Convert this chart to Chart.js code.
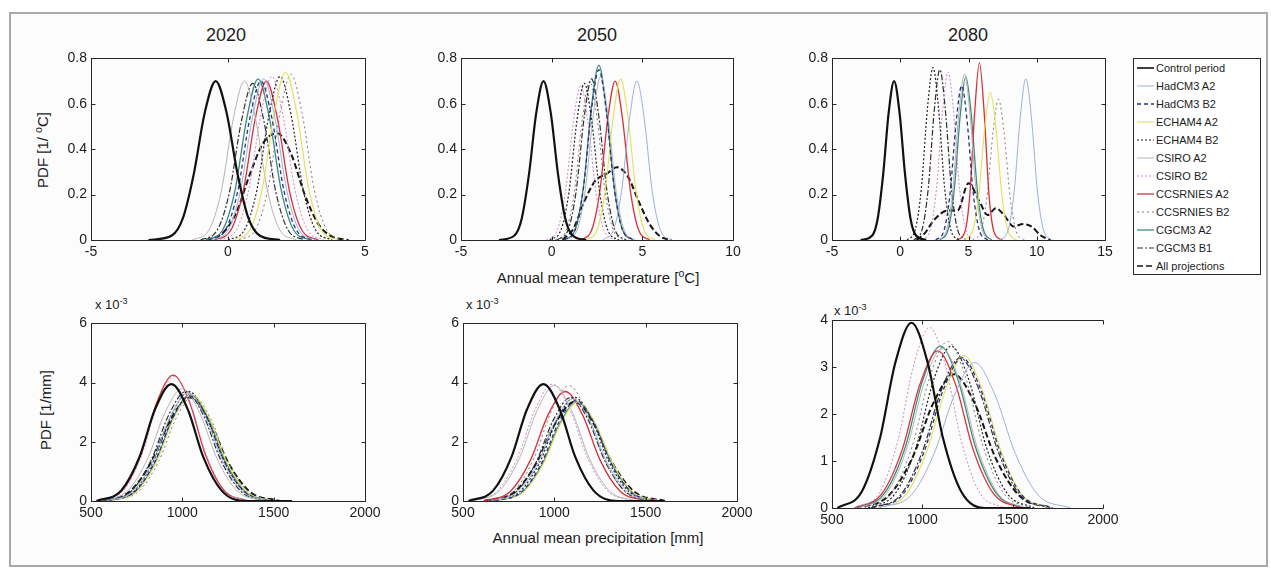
<!DOCTYPE html>
<html>
<head>
<meta charset="utf-8">
<script src="https://cdn.jsdelivr.net/npm/chart.js@4.4.1/dist/chart.umd.min.js"></script>
<style>
  html, body { margin: 0; padding: 0; background: #fff; }
  #figure { position: relative; width: 1271px; height: 574px; overflow: hidden;
            font-family: "Liberation Sans", Arial, sans-serif; color: #1c1c1c; }
  #frame { position: absolute; left: 9px; top: 12px; width: 1255px; height: 551px;
           border: 2px solid #a9a9a9; background: #fcfcfc; }
  canvas.panel { position: absolute; }
  .lbl { position: absolute; white-space: nowrap; transform: translate(-50%, -50%); }
  .title { font-size: 18px; }
  .axlabel { font-size: 15px; }
  .ylabel { font-size: 15px; transform: translate(-50%, -50%) rotate(-90deg); }
  .exp { position: absolute; font-size: 13px; white-space: nowrap; }
  sup { font-size: 70%; vertical-align: super; line-height: 0; }
  #legend { position: absolute; left: 1133px; top: 58px; width: 126px; height: 215px;
            border: 1px solid #2a2a2a; background: #fff; font-size: 11px; }
  #legend .row { height: 18px; display: flex; align-items: center; }
  #legend svg { margin: 0 2px 0 3px; flex: none; }
</style>
</head>
<body>
<div id="figure">
  <div id="frame"></div>

  <div class="lbl title" style="left:226px; top:35px;">2020</div>
  <div class="lbl title" style="left:597px; top:35px;">2050</div>
  <div class="lbl title" style="left:968px; top:35px;">2080</div>

  <div class="lbl ylabel" style="left:42px; top:150px;">PDF [1/ <sup>o</sup>C]</div>
  <div class="lbl ylabel" style="left:45px; top:410px;">PDF [1/mm]</div>

  <div class="lbl axlabel" style="left:598px; top:277px;">Annual mean temperature [<sup>o</sup>C]</div>
  <div class="lbl axlabel" style="left:598px; top:537px;">Annual mean precipitation [mm]</div>

  <div class="exp" style="left:95px; top:297px;">x 10<sup>-3</sup></div>
  <div class="exp" style="left:466px; top:297px;">x 10<sup>-3</sup></div>
  <div class="exp" style="left:834px; top:303px;">x 10<sup>-3</sup></div>

  <div id="legend"></div>
</div>

<script>
// series order used by every panel
const models = [
  'Control period', 'HadCM3 A2', 'HadCM3 B2', 'ECHAM4 A2', 'ECHAM4 B2',
  'CSIRO A2', 'CSIRO B2', 'CCSRNIES A2', 'CCSRNIES B2', 'CGCM3 A2',
  'CGCM3 B1', 'All projections'
];
const lineColors = ['#111111', '#9db1d8', '#26308a', '#e2e05a', '#222222', '#b4b4b4',
                    '#c98bcb', '#d6303a', '#7c7c7c', '#3b8b7a', '#303030', '#151515'];
const lineWidths = [2.2, 1, 1.3, 1.1, 1.2, 1, 1, 1.3, 1, 1.3, 1.2, 2];
const lineDashes = [[], [], [4, 3], [], [2, 2], [], [2, 2], [], [2, 3], [], [6, 2, 2, 2], [6, 3]];

// axis ticks
const tempTicks2020 = [-5, 0, 5];
const tempTicks2050 = [-5, 0, 5, 10];
const tempTicks2080 = [-5, 0, 5, 10, 15];
const precipTicks = [500, 1000, 1500, 2000];
const pdfTempTicks = [0, 0.2, 0.4, 0.6, 0.8];
const pdfPrecipTicks = [0, 2, 4, 6];
const pdfPrecipTicks2080 = [0, 1, 2, 3, 4];

// control period, [deg C, 1/deg C]
const controlTemp = [[-2.9,0],[-2.05,0.02],[-1.65,0.095],[-1.25,0.29],[-0.85,0.56],[-0.45,0.70],
                     [-0.05,0.56],[0.35,0.29],[0.75,0.095],[1.15,0.02],[1.9,0]];
// control period, [mm, 1e-3/mm]
const controlPrecip = [[530,0],[665,0.35],[765,1.48],[850,3.09],[940,3.95],[1030,3.09],
                       [1115,1.48],[1215,0.35],[1350,0],[1600,0]];

// projections, same order as models[1..]
const temp2020 = [
  [[-0.6,0],[0,0.043],[0.45,0.215],[0.9,0.545],[1.3,0.71],[1.7,0.545],[2.15,0.215],[2.6,0.043],[3.2,0]],
  [[-0.7,0],[-0.1,0.043],[0.35,0.212],[0.8,0.538],[1.2,0.70],[1.6,0.538],[2.05,0.212],[2.5,0.043],[3.1,0]],
  [[0.2,0],[0.8,0.045],[1.25,0.224],[1.7,0.568],[2.1,0.74],[2.5,0.568],[2.95,0.224],[3.4,0.045],[4.0,0]],
  [[0,0],[0.6,0.044],[1.05,0.218],[1.5,0.553],[1.9,0.72],[2.3,0.553],[2.75,0.218],[3.2,0.044],[3.8,0]],
  [[-1.3,0],[-0.7,0.043],[-0.25,0.212],[0.2,0.538],[0.6,0.70],[1.0,0.538],[1.45,0.212],[1.9,0.043],[2.5,0]],
  [[-0.3,0],[0.3,0.044],[0.75,0.218],[1.2,0.553],[1.6,0.72],[2.0,0.553],[2.45,0.218],[2.9,0.044],[3.5,0]],
  [[-0.5,0],[0.1,0.043],[0.55,0.212],[1.0,0.538],[1.4,0.70],[1.8,0.538],[2.25,0.212],[2.7,0.043],[3.3,0]],
  [[0.4,0],[1.0,0.045],[1.45,0.221],[1.9,0.561],[2.3,0.73],[2.7,0.561],[3.15,0.221],[3.6,0.045],[4.2,0]],
  [[-0.8,0],[-0.2,0.043],[0.25,0.215],[0.7,0.545],[1.1,0.71],[1.5,0.545],[1.95,0.215],[2.4,0.043],[3.0,0]],
  [[-1.0,0],[-0.4,0.042],[0.05,0.209],[0.5,0.530],[0.9,0.69],[1.3,0.530],[1.75,0.209],[2.2,0.042],[2.8,0]],
  [[-0.8,0],[-0.2,0.03],[0.3,0.12],[0.8,0.29],[1.3,0.43],[1.8,0.47],[2.3,0.38],[2.8,0.20],[3.3,0.07],[3.8,0.015],[4.4,0]]
];
const temp2050 = [
  [[2.8,0],[3.4,0.043],[3.85,0.212],[4.3,0.538],[4.7,0.70],[5.1,0.538],[5.55,0.212],[6.0,0.043],[6.6,0]],
  [[0.7,0],[1.3,0.046],[1.75,0.227],[2.2,0.576],[2.6,0.75],[3.0,0.576],[3.45,0.227],[3.9,0.046],[4.5,0]],
  [[1.9,0],[2.5,0.043],[2.95,0.215],[3.4,0.545],[3.8,0.71],[4.2,0.545],[4.65,0.215],[5.1,0.043],[5.7,0]],
  [[-0.1,0],[0.5,0.042],[0.95,0.209],[1.4,0.530],[1.8,0.69],[2.2,0.530],[2.65,0.209],[3.1,0.042],[3.7,0]],
  [[0.8,0],[1.4,0.044],[1.85,0.218],[2.3,0.553],[2.7,0.72],[3.1,0.553],[3.55,0.218],[4.0,0.044],[4.6,0]],
  [[-0.3,0],[0.3,0.041],[0.75,0.206],[1.2,0.522],[1.6,0.68],[2.0,0.522],[2.45,0.206],[2.9,0.041],[3.5,0]],
  [[1.6,0],[2.2,0.043],[2.65,0.212],[3.1,0.538],[3.5,0.70],[3.9,0.538],[4.35,0.212],[4.8,0.043],[5.4,0]],
  [[0.2,0],[0.8,0.043],[1.25,0.212],[1.7,0.538],[2.1,0.70],[2.5,0.538],[2.95,0.212],[3.4,0.043],[4.0,0]],
  [[0.7,0],[1.3,0.047],[1.75,0.233],[2.2,0.591],[2.6,0.77],[3.0,0.591],[3.45,0.233],[3.9,0.047],[4.5,0]],
  [[0.3,0],[0.9,0.043],[1.35,0.215],[1.8,0.545],[2.2,0.71],[2.6,0.545],[3.05,0.215],[3.5,0.043],[4.1,0]],
  [[0.6,0],[1.2,0.05],[1.8,0.17],[2.4,0.26],[3.0,0.29],[3.6,0.32],[4.2,0.28],[4.8,0.17],[5.4,0.07],[6.0,0.015],[6.6,0]]
];
const temp2080 = [
  [[7.3,0],[7.9,0.043],[8.35,0.215],[8.8,0.545],[9.2,0.71],[9.6,0.545],[10.05,0.215],[10.5,0.043],[11.1,0]],
  [[2.6,0],[3.2,0.041],[3.65,0.206],[4.1,0.522],[4.5,0.68],[4.9,0.522],[5.35,0.206],[5.8,0.041],[6.4,0]],
  [[4.7,0],[5.3,0.040],[5.75,0.197],[6.2,0.499],[6.6,0.65],[7.0,0.499],[7.45,0.197],[7.9,0.040],[8.5,0]],
  [[0.5,0],[1.1,0.046],[1.55,0.230],[2.0,0.584],[2.4,0.76],[2.8,0.584],[3.25,0.230],[3.7,0.046],[4.3,0]],
  [[2.8,0],[3.4,0.045],[3.85,0.221],[4.3,0.561],[4.7,0.73],[5.1,0.561],[5.55,0.221],[6.0,0.045],[6.6,0]],
  [[1.6,0],[2.2,0.045],[2.65,0.224],[3.1,0.568],[3.5,0.74],[3.9,0.568],[4.35,0.224],[4.8,0.045],[5.4,0]],
  [[4.1,0],[4.7,0.03],[5.1,0.2],[5.45,0.56],[5.8,0.78],[6.15,0.56],[6.5,0.2],[6.9,0.03],[7.5,0]],
  [[5.3,0],[5.9,0.038],[6.35,0.188],[6.8,0.476],[7.2,0.62],[7.6,0.476],[8.05,0.188],[8.5,0.038],[9.1,0]],
  [[2.9,0],[3.5,0.044],[3.95,0.218],[4.4,0.553],[4.8,0.72],[5.2,0.553],[5.65,0.218],[6.1,0.044],[6.7,0]],
  [[1.0,0],[1.6,0.046],[2.05,0.227],[2.5,0.576],[2.9,0.75],[3.3,0.576],[3.75,0.227],[4.2,0.046],[4.8,0]],
  [[1.2,0],[1.8,0.03],[2.5,0.09],[3.5,0.13],[4.2,0.13],[5.0,0.25],[5.8,0.17],[6.4,0.11],[7.0,0.14],
   [7.6,0.11],[8.3,0.06],[9.0,0.07],[9.6,0.06],[10.3,0.02],[11,0]]
];
const precip2020 = [
  [[585,0],[730,0.32],[840,1.37],[935,2.86],[1030,3.65],[1125,2.86],[1220,1.37],[1330,0.32],[1475,0]],
  [[595,0],[740,0.32],[850,1.33],[945,2.78],[1040,3.55],[1135,2.78],[1230,1.33],[1340,0.32],[1485,0]],
  [[605,0],[750,0.32],[860,1.35],[955,2.82],[1050,3.6],[1145,2.82],[1240,1.35],[1350,0.32],[1495,0]],
  [[590,0],[735,0.33],[845,1.39],[940,2.90],[1035,3.7],[1130,2.90],[1225,1.39],[1335,0.33],[1480,0]],
  [[555,0],[700,0.34],[810,1.43],[905,2.98],[1000,3.8],[1095,2.98],[1190,1.43],[1300,0.34],[1445,0]],
  [[545,0],[680,0.37],[780,1.58],[865,3.29],[955,4.2],[1045,3.29],[1130,1.58],[1230,0.37],[1365,0]],
  [[540,0],[675,0.38],[775,1.59],[860,3.33],[950,4.25],[1040,3.33],[1125,1.59],[1225,0.38],[1360,0]],
  [[615,0],[760,0.32],[870,1.33],[965,2.78],[1060,3.55],[1155,2.78],[1250,1.33],[1360,0.32],[1505,0]],
  [[600,0],[745,0.32],[855,1.35],[950,2.82],[1045,3.6],[1140,2.82],[1235,1.35],[1345,0.32],[1490,0]],
  [[575,0],[720,0.33],[830,1.39],[925,2.90],[1020,3.7],[1115,2.90],[1210,1.39],[1320,0.33],[1465,0]],
  [[545,0],[710,0.31],[830,1.31],[935,2.74],[1040,3.5],[1145,2.74],[1250,1.31],[1370,0.31],[1535,0]]
];
const precip2050 = [
  [[655,0],[800,0.31],[910,1.29],[1005,2.70],[1100,3.45],[1195,2.70],[1290,1.29],[1400,0.31],[1545,0]],
  [[675,0],[820,0.30],[930,1.28],[1025,2.66],[1120,3.4],[1215,2.66],[1310,1.28],[1420,0.30],[1565,0]],
  [[685,0],[830,0.30],[940,1.26],[1035,2.62],[1130,3.35],[1225,2.62],[1320,1.26],[1430,0.30],[1575,0]],
  [[665,0],[810,0.31],[920,1.31],[1015,2.74],[1110,3.5],[1205,2.74],[1300,1.31],[1410,0.31],[1555,0]],
  [[555,0],[700,0.35],[810,1.46],[905,3.05],[1000,3.9],[1095,3.05],[1190,1.46],[1300,0.35],[1445,0]],
  [[545,0],[690,0.35],[800,1.48],[895,3.09],[990,3.95],[1085,3.09],[1180,1.48],[1290,0.35],[1435,0]],
  [[615,0],[760,0.33],[870,1.39],[965,2.90],[1060,3.7],[1155,2.90],[1250,1.39],[1360,0.33],[1505,0]],
  [[635,0],[780,0.35],[890,1.46],[985,3.05],[1080,3.9],[1175,3.05],[1270,1.46],[1380,0.35],[1525,0]],
  [[680,0],[825,0.30],[935,1.26],[1030,2.62],[1125,3.35],[1220,2.62],[1315,1.26],[1425,0.30],[1570,0]],
  [[645,0],[790,0.31],[900,1.31],[995,2.74],[1090,3.5],[1185,2.74],[1280,1.31],[1390,0.31],[1535,0]],
  [[615,0],[780,0.30],[900,1.26],[1005,2.62],[1110,3.35],[1215,2.62],[1320,1.26],[1440,0.30],[1605,0]]
];
const precip2080 = [
  [[760,0],[940,0.28],[1065,1.16],[1180,2.43],[1290,3.1],[1400,2.43],[1515,1.16],[1640,0.28],[1820,0]],
  [[725,0],[890,0.28],[1010,1.2],[1115,2.51],[1220,3.2],[1325,2.51],[1430,1.2],[1550,0.28],[1715,0]],
  [[750,0],[910,0.29],[1025,1.22],[1130,2.54],[1230,3.25],[1330,2.54],[1435,1.22],[1550,0.29],[1710,0]],
  [[700,0],[850,0.31],[965,1.29],[1060,2.70],[1160,3.45],[1260,2.70],[1355,1.29],[1470,0.31],[1620,0]],
  [[650,0],[800,0.30],[915,1.28],[1010,2.66],[1110,3.4],[1210,2.66],[1305,1.28],[1420,0.30],[1570,0]],
  [[630,0],[765,0.34],[865,1.44],[950,3.01],[1040,3.85],[1130,3.01],[1215,1.44],[1315,0.34],[1450,0]],
  [[625,0],[775,0.30],[890,1.26],[985,2.62],[1085,3.35],[1185,2.62],[1280,1.26],[1395,0.30],[1545,0]],
  [[680,0],[830,0.32],[945,1.33],[1040,2.78],[1140,3.55],[1240,2.78],[1335,1.33],[1450,0.32],[1600,0]],
  [[640,0],[790,0.31],[905,1.29],[1000,2.70],[1100,3.45],[1200,2.70],[1295,1.29],[1410,0.31],[1560,0]],
  [[715,0],[880,0.28],[1000,1.2],[1105,2.51],[1210,3.2],[1315,2.51],[1420,1.2],[1540,0.28],[1705,0]],
  [[630,0],[810,0.25],[945,1.07],[1060,2.23],[1175,2.85],[1290,2.23],[1405,1.07],[1540,0.25],[1720,0]]
];

const FONT = { family: '"Liberation Sans", Arial, sans-serif', size: 14 };
const TEXT = '#1c1c1c';

// box around the axes with inward tick marks on all four sides
const matlabBox = {
  id: 'matlabBox',
  afterDatasetsDraw(chart, args, opts) {
    const { ctx, chartArea: a, scales: { x, y } } = chart;
    const L = Math.round(a.left) + 0.5, R = Math.round(a.right) + 0.5;
    const T = Math.round(a.top) + 0.5, B = Math.round(a.bottom) + 0.5;
    const t = 4;
    ctx.save();
    ctx.strokeStyle = '#262626';
    ctx.lineWidth = 1;
    ctx.beginPath();
    ctx.moveTo(R, B); ctx.lineTo(L, B); ctx.lineTo(L, T); ctx.lineTo(R, T);
    if (!opts.openRight) ctx.lineTo(R, B);
    for (const tk of x.ticks) {
      const px = Math.round(x.getPixelForValue(tk.value)) + 0.5;
      ctx.moveTo(px, B); ctx.lineTo(px, B - t);
      ctx.moveTo(px, T); ctx.lineTo(px, T + t);
    }
    for (const tk of y.ticks) {
      const py = Math.round(y.getPixelForValue(tk.value)) + 0.5;
      ctx.moveTo(L, py); ctx.lineTo(L + t, py);
      if (!opts.openRight) { ctx.moveTo(R, py); ctx.lineTo(R - t, py); }
    }
    ctx.stroke();
    ctx.restore();
  }
};

// box = [left, top, right, bottom] of the plot area on the page
function makePanel(box, xTicks, yTicks, control, curves, fmtY, openRight) {
  const [L, T, R, B] = box;
  const padL = 50, padT = 12, padR = 24, padB = 28;
  const canvas = document.createElement('canvas');
  canvas.className = 'panel';
  canvas.width = R - L + padL + padR;
  canvas.height = B - T + padT + padB;
  canvas.style.left = (L - padL) + 'px';
  canvas.style.top = (T - padT) + 'px';
  document.getElementById('figure').appendChild(canvas);

  const series = [control].concat(curves);
  const datasets = series.map((pts, i) => ({
    label: models[i],
    data: pts.map(([x, y]) => ({ x, y })),
    borderColor: lineColors[i],
    borderWidth: lineWidths[i],
    borderDash: lineDashes[i],
    pointRadius: 0,
    fill: false,
    cubicInterpolationMode: 'monotone'
  }));

  return new Chart(canvas, {
    type: 'line',
    data: { datasets },
    options: {
      responsive: false,
      animation: false,
      events: [],
      layout: { padding: { left: 0, top: padT, right: padR, bottom: 0 } },
      plugins: { legend: { display: false }, tooltip: { enabled: false }, matlabBox: { openRight } },
      scales: {
        x: {
          type: 'linear',
          min: xTicks[0], max: xTicks[xTicks.length - 1],
          grid: { display: false, drawTicks: false },
          border: { display: false },
          afterBuildTicks: s => { s.ticks = xTicks.map(v => ({ value: v })); },
          afterFit: s => { s.height = padB; },
          ticks: { padding: 4, maxRotation: 0, autoSkip: false, font: FONT, color: TEXT,
                   callback: v => String(v) }
        },
        y: {
          min: yTicks[0], max: yTicks[yTicks.length - 1],
          grid: { display: false, drawTicks: false },
          border: { display: false },
          afterBuildTicks: s => { s.ticks = yTicks.map(v => ({ value: v })); },
          afterFit: s => { s.width = padL; },
          ticks: { padding: 4, font: FONT, color: TEXT, callback: fmtY }
        }
      }
    },
    plugins: [matlabBox]
  });
}

const fmtTemp = v => (v === 0 ? '0' : v.toFixed(1));
const fmtInt = v => String(v);

makePanel([91, 58, 365, 240], tempTicks2020, pdfTempTicks, controlTemp, temp2020, fmtTemp, false);
makePanel([461, 58, 733, 240], tempTicks2050, pdfTempTicks, controlTemp, temp2050, fmtTemp, false);
makePanel([832, 58, 1105, 240], tempTicks2080, pdfTempTicks, controlTemp, temp2080, fmtTemp, false);
makePanel([91, 323, 365, 501], precipTicks, pdfPrecipTicks, controlPrecip, precip2020, fmtInt, false);
makePanel([463, 323, 737, 501], precipTicks, pdfPrecipTicks, controlPrecip, precip2050, fmtInt, false);
makePanel([832, 320, 1103, 508], precipTicks, pdfPrecipTicks2080, controlPrecip, precip2080, fmtInt, true);

// legend entries with line samples
const legend = document.getElementById('legend');
models.forEach((name, i) => {
  const row = document.createElement('div');
  row.className = 'row';
  const dash = lineDashes[i].length ? lineDashes[i].join(' ') : 'none';
  row.innerHTML =
    `<svg width="17" height="8"><line x1="0" y1="4" x2="17" y2="4" stroke="${lineColors[i]}" ` +
    `stroke-width="${Math.min(lineWidths[i], 1.6)}" stroke-dasharray="${dash}"/></svg>` +
    `<span>${name}</span>`;
  legend.appendChild(row);
});
</script>
</body>
</html>
